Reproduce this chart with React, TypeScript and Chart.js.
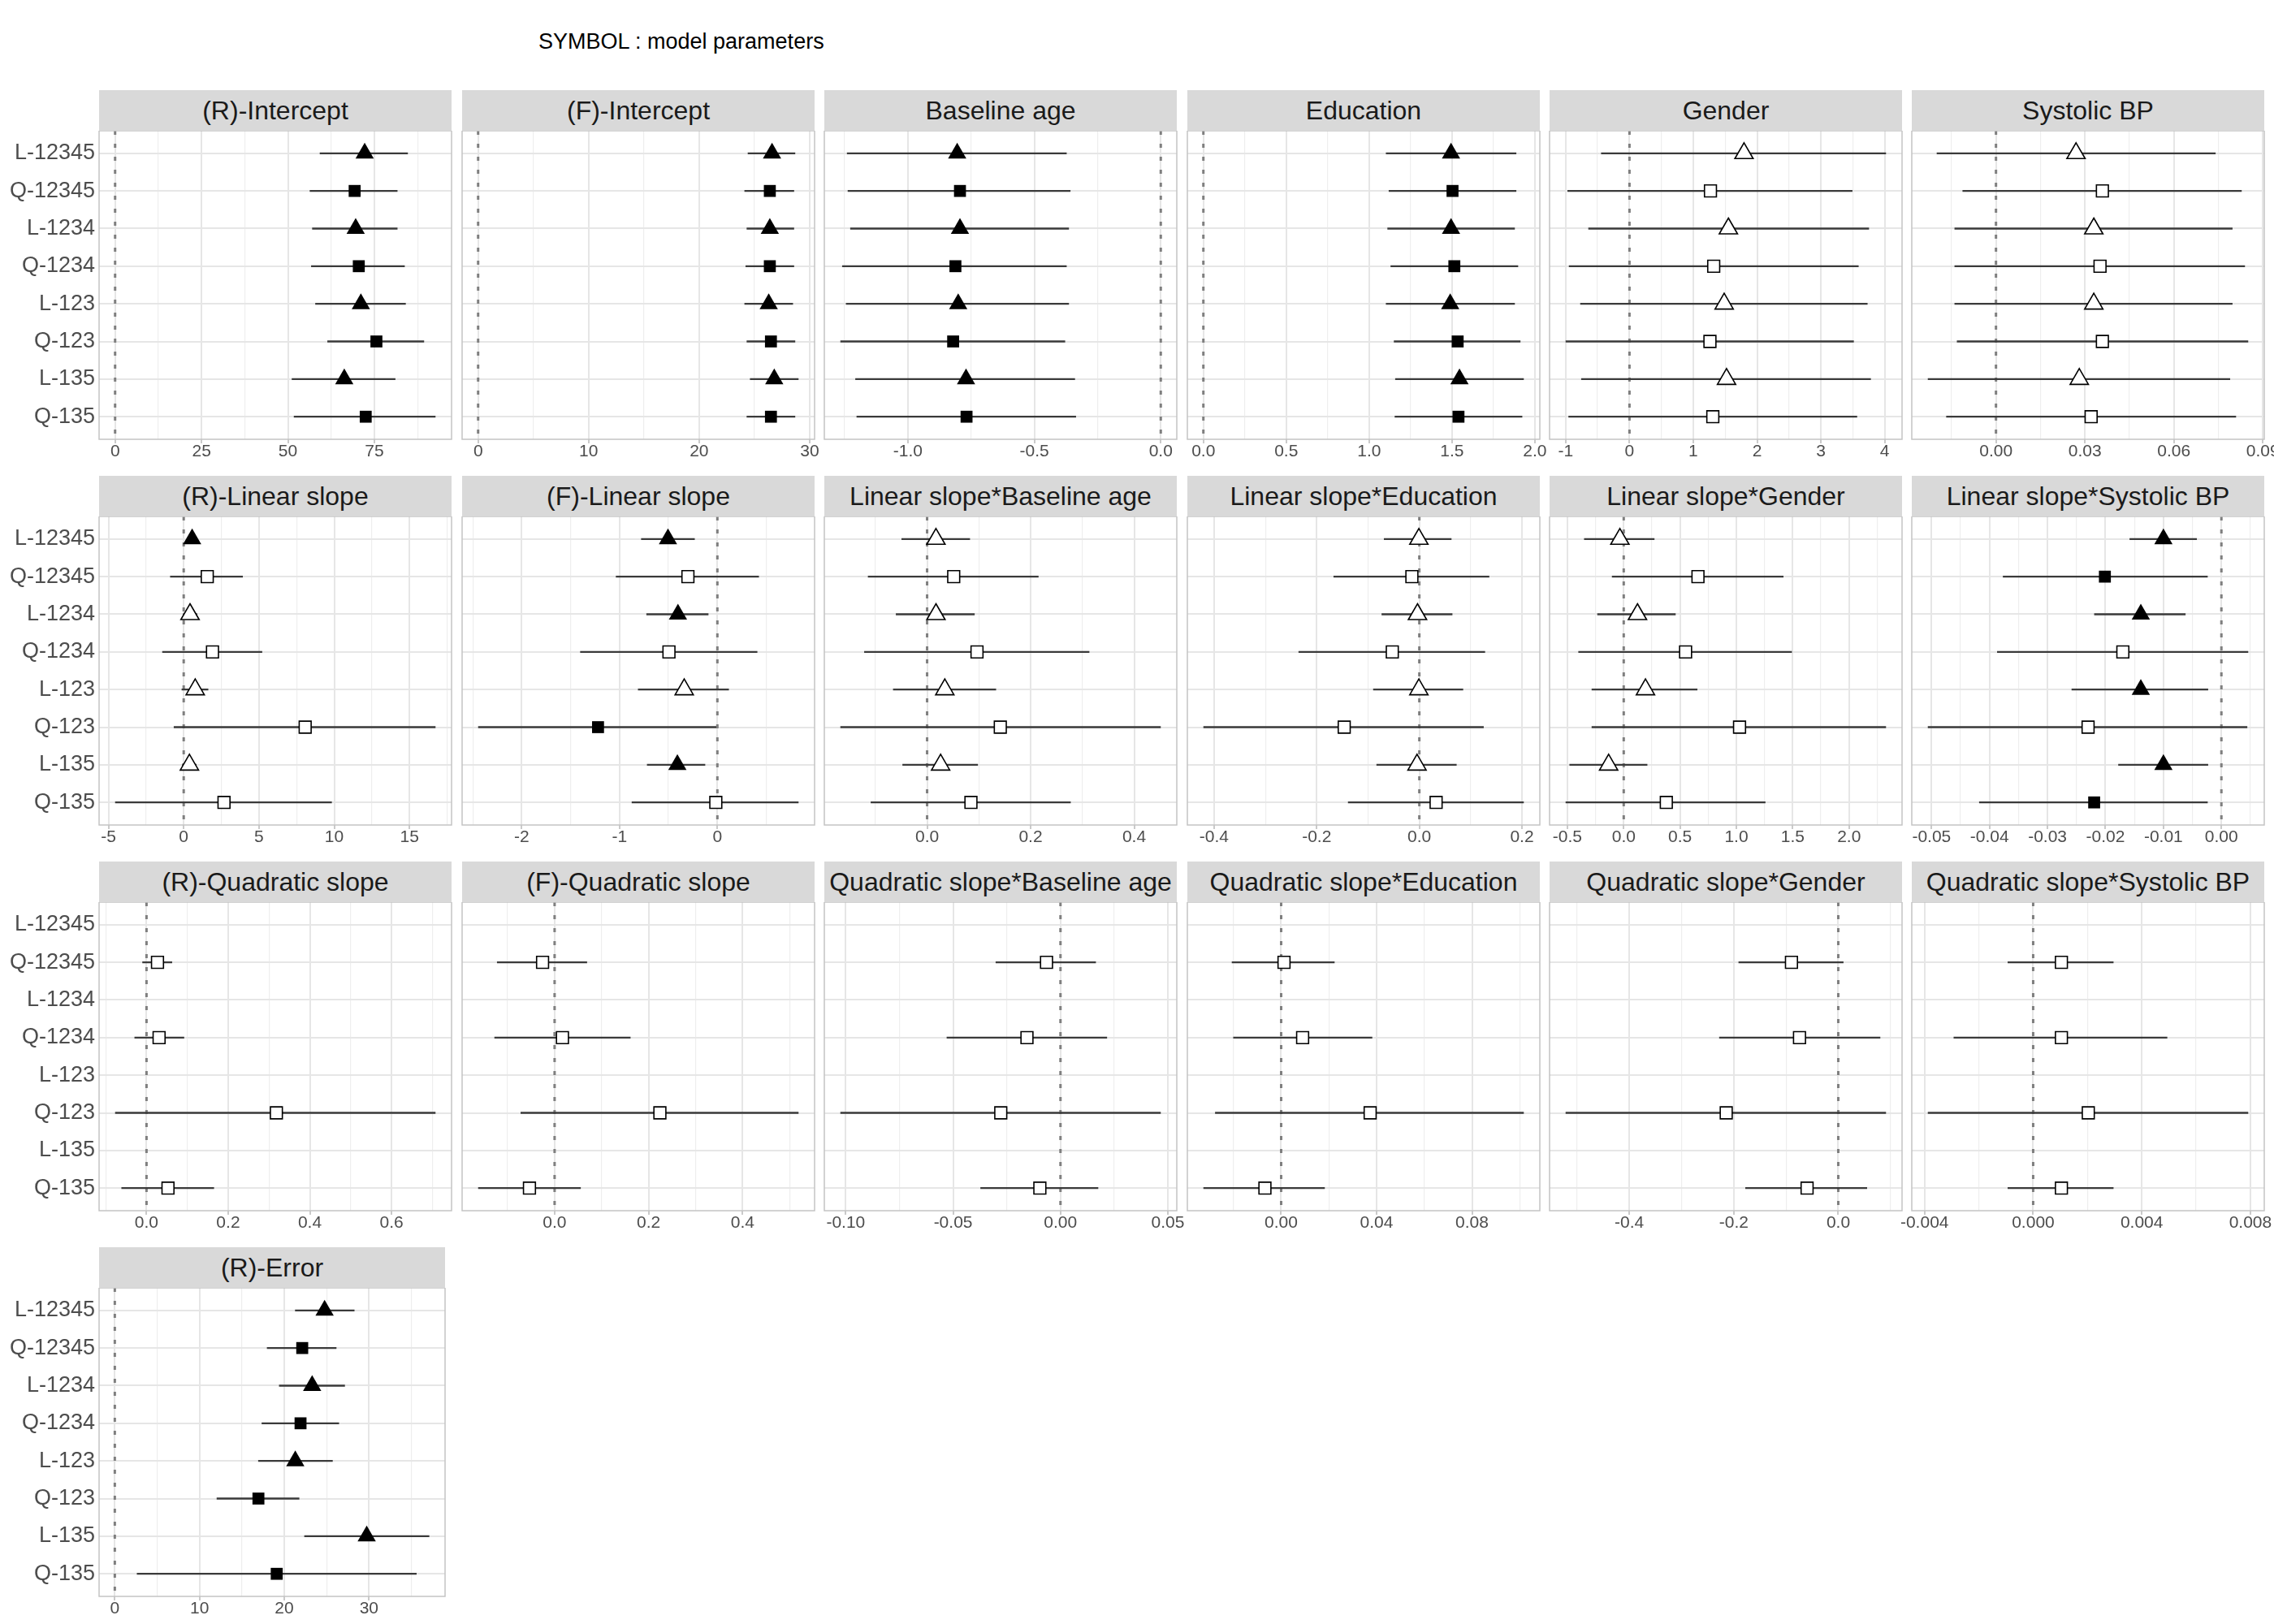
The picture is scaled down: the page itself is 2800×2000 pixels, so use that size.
import React, { useEffect, useRef } from "react";
import { Chart, registerables } from "chart.js";

Chart.register(...registerables);
Chart.defaults.font.family = "'Liberation Sans', Arial, Helvetica, sans-serif";

// ---------------- data ----------------
const models = ["L-12345", "Q-12345", "L-1234", "Q-1234", "L-123", "Q-123", "L-135", "Q-135"];

// each row: [estimate, lower, upper]; null = parameter not in model
const rIntercept = [[72.2, 59.2, 84.7], [69.3, 56.3, 81.7], [69.6, 57.0, 81.7], [70.5, 56.7, 83.8], [71.1, 57.9, 84.1], [75.6, 61.4, 89.4], [66.3, 51.1, 81.1], [72.5, 51.7, 92.7]];
const fIntercept = [[26.6, 24.4, 28.7], [26.4, 24.1, 28.6], [26.4, 24.3, 28.6], [26.4, 24.2, 28.6], [26.3, 24.1, 28.5], [26.5, 24.3, 28.7], [26.8, 24.6, 29.0], [26.5, 24.3, 28.7]];
const baselineAge = [[-0.805, -1.241, -0.372], [-0.794, -1.238, -0.357], [-0.794, -1.228, -0.363], [-0.812, -1.26, -0.372], [-0.801, -1.245, -0.363], [-0.821, -1.267, -0.378], [-0.77, -1.208, -0.339], [-0.768, -1.203, -0.335]];
const education = [[1.494, 1.101, 1.888], [1.503, 1.118, 1.888], [1.494, 1.11, 1.879], [1.514, 1.129, 1.899], [1.489, 1.101, 1.879], [1.534, 1.149, 1.913], [1.545, 1.157, 1.933], [1.539, 1.154, 1.924]];
const gender = [[1.795, -0.445, 4.02], [1.269, -0.972, 3.494], [1.55, -0.645, 3.754], [1.32, -0.95, 3.591], [1.484, -0.772, 3.731], [1.261, -1.001, 3.516], [1.521, -0.757, 3.783], [1.306, -0.957, 3.568]];
const systolicBP = [[0.027, -0.02, 0.0741], [0.0359, -0.0113, 0.0829], [0.033, -0.014, 0.0798], [0.0351, -0.014, 0.084], [0.033, -0.014, 0.0798], [0.0359, -0.0132, 0.0851], [0.0281, -0.023, 0.079], [0.0321, -0.0168, 0.081]];
const rLinear = [[0.56, 0.3, 0.8], [1.565, -0.904, 3.93], [0.42, -0.05, 0.9], [1.913, -1.426, 5.217], [0.765, -0.139, 1.635], [8.07, -0.661, 16.73], [0.38, -0.1, 0.85], [2.678, -4.557, 9.843]];
const fLinear = [[-0.505, -0.78, -0.231], [-0.301, -1.038, 0.425], [-0.403, -0.726, -0.091], [-0.495, -1.403, 0.409], [-0.339, -0.812, 0.118], [-1.22, -2.446, -0.011], [-0.409, -0.72, -0.124], [-0.016, -0.876, 0.83]];
const linAge = [[0.0171, -0.0495, 0.0829], [0.0514, -0.1144, 0.2153], [0.0171, -0.0604, 0.0919], [0.0964, -0.1216, 0.3135], [0.0342, -0.0658, 0.1333], [0.1414, -0.1676, 0.4514], [0.0261, -0.0477, 0.0982], [0.0847, -0.109, 0.2775]];
const linEdu = [[-0.0009, -0.0691, 0.0627], [-0.0145, -0.1673, 0.1364], [-0.0036, -0.0736, 0.0645], [-0.0527, -0.2355, 0.1282], [-0.0009, -0.09, 0.0855], [-0.1464, -0.4209, 0.1255], [-0.0045, -0.0836, 0.0727], [0.0327, -0.1391, 0.2036]];
const linGender = [[-0.034, -0.352, 0.273], [0.659, -0.105, 1.418], [0.122, -0.235, 0.461], [0.549, -0.403, 1.493], [0.193, -0.285, 0.654], [1.028, -0.285, 2.328], [-0.134, -0.482, 0.21], [0.378, -0.516, 1.258]];
const linBP = [[-0.01, -0.01585, -0.00423], [-0.0201, -0.0377, -0.00236], [-0.0139, -0.02195, -0.00618], [-0.017, -0.0387, 0.00463], [-0.0139, -0.02585, -0.00228], [-0.023, -0.05065, 0.00447], [-0.01, -0.0178, -0.00228], [-0.02195, -0.0418, -0.00236]];
const rQuad = [null, [0.0269, -0.0103, 0.0628], null, [0.0308, -0.0295, 0.0923], null, [0.318, -0.0769, 0.7077], null, [0.0526, -0.0615, 0.1654]];
const fQuad = [null, [-0.0256, -0.1226, 0.0691], null, [0.0167, -0.1281, 0.1616], null, [0.224, -0.0724, 0.519], null, [-0.0535, -0.1627, 0.0557]];
const quadAge = [null, [-0.0065, -0.0302, 0.0165], null, [-0.0156, -0.053, 0.0217], null, [-0.0278, -0.1025, 0.0467], null, [-0.0096, -0.0373, 0.0176]];
const quadEdu = [null, [0.0012, -0.0207, 0.0224], null, [0.009, -0.0201, 0.0382], null, [0.0373, -0.0277, 0.1017], null, [-0.0068, -0.0326, 0.0183]];
const quadGender = [null, [-0.0896, -0.191, 0.01], null, [-0.0742, -0.228, 0.0805], null, [-0.2145, -0.522, 0.0914], null, [-0.0597, -0.178, 0.0552]];
const quadBP = [null, [0.00104, -0.00094, 0.00296], null, [0.00104, -0.00293, 0.00494], null, [0.00203, -0.00388, 0.00792], null, [0.00104, -0.00094, 0.00296]];
const rError = [[24.76, 21.27, 28.29], [22.12, 17.95, 26.16], [23.29, 19.38, 27.16], [21.92, 17.33, 26.47], [21.3, 16.92, 25.72], [16.95, 12.02, 21.78], [29.73, 22.36, 37.12], [19.11, 2.6, 35.62]];

const panelTitles = [
  "(R)-Intercept", "(F)-Intercept", "Baseline age", "Education", "Gender", "Systolic BP",
  "(R)-Linear slope", "(F)-Linear slope", "Linear slope*Baseline age", "Linear slope*Education", "Linear slope*Gender", "Linear slope*Systolic BP",
  "(R)-Quadratic slope", "(F)-Quadratic slope", "Quadratic slope*Baseline age", "Quadratic slope*Education", "Quadratic slope*Gender", "Quadratic slope*Systolic BP",
  "(R)-Error",
];

const panelData: (number[] | null)[][] = [
  rIntercept, fIntercept, baselineAge, education, gender, systolicBP,
  rLinear, fLinear, linAge, linEdu, linGender, linBP,
  rQuad, fQuad, quadAge, quadEdu, quadGender, quadBP,
  rError,
];

const panelTickLabels = [
  ["0", "25", "50", "75"],
  ["0", "10", "20", "30"],
  ["-1.0", "-0.5", "0.0"],
  ["0.0", "0.5", "1.0", "1.5", "2.0"],
  ["-1", "0", "1", "2", "3", "4"],
  ["0.00", "0.03", "0.06", "0.09"],
  ["-5", "0", "5", "10", "15"],
  ["-2", "-1", "0"],
  ["0.0", "0.2", "0.4"],
  ["-0.4", "-0.2", "0.0", "0.2"],
  ["-0.5", "0.0", "0.5", "1.0", "1.5", "2.0"],
  ["-0.05", "-0.04", "-0.03", "-0.02", "-0.01", "0.00"],
  ["0.0", "0.2", "0.4", "0.6"],
  ["0.0", "0.2", "0.4"],
  ["-0.10", "-0.05", "0.00", "0.05"],
  ["0.00", "0.04", "0.08"],
  ["-0.4", "-0.2", "0.0"],
  ["-0.004", "0.000", "0.004", "0.008"],
  ["0", "10", "20", "30"],
];

const chartTitle = "SYMBOL : model parameters";

// ---------------- layout ----------------
const COL_LEFT = [122, 569, 1015, 1462, 1908, 2354];
const ROW_TOP = [111, 586, 1061, 1536];
const PANEL_W = 434;
const ERROR_W = 426;
const STRIP_H = 50;
const PLOT_H = 380;
const AXIS_H = 40;
const SIDE = 28;
const LABEL_W = 122;
const FONT = "'Liberation Sans', Arial, Helvetica, sans-serif";

const borderPlugin = {
  id: "panelBorder",
  afterDraw(chart: any) {
    const { ctx, chartArea } = chart;
    ctx.save();
    ctx.strokeStyle = "#C4C4C4";
    ctx.lineWidth = 1.5;
    ctx.strokeRect(chartArea.left, chartArea.top, chartArea.right - chartArea.left, chartArea.bottom - chartArea.top);
    ctx.restore();
  },
};

function buildTicks(labels: string[], min: number, max: number) {
  const majors = labels.map(Number);
  const step = majors[1] - majors[0];
  const ext = [majors[0] - step, ...majors, majors[majors.length - 1] + step];
  const minors: number[] = [];
  for (let i = 0; i < ext.length - 1; i++) minors.push((ext[i] + ext[i + 1]) / 2);
  const eps = Math.abs(step) * 1e-9;
  return [...majors, ...minors]
    .filter((v) => v >= min - eps && v <= max + eps)
    .sort((a, b) => a - b);
}

function Panel({ index }: { index: number }) {
  const canvasRef = useRef<HTMLCanvasElement | null>(null);
  const col = index % 6;
  const row = Math.floor(index / 6);
  const first = col === 0;
  const width = index === 18 ? ERROR_W : PANEL_W;
  const left = COL_LEFT[col];
  const top = ROW_TOP[row];
  const padLeft = first ? LABEL_W : SIDE;
  const canvasLeft = left - padLeft;
  const canvasW = padLeft + width + SIDE;
  const canvasH = PLOT_H + AXIS_H;
  const canvasTop = top + STRIP_H;

  useEffect(() => {
    const rows = panelData[index];
    const labels = panelTickLabels[index];
    const majors = labels.map(Number);
    const valid = rows.filter((r) => r !== null) as number[][];
    const lo = Math.min(0, ...valid.map((r) => r[1]));
    const hi = Math.max(0, ...valid.map((r) => r[2]));
    const pad = 0.05 * (hi - lo);
    const xMin = lo - pad;
    const xMax = hi + pad;
    const tickVals = buildTicks(labels, xMin, xMax);
    const step = Math.abs(majors[1] - majors[0]);
    const majorIdx = (v: number) => majors.findIndex((m) => Math.abs(m - v) < step * 1e-6);
    const isMajor = (v: number) => majorIdx(v) >= 0;

    const pts: any[] = [];
    const styles: string[] = [];
    const radii: number[] = [];
    const bg: string[] = [];
    const bw: number[] = [];
    const datasets: any[] = [];
    rows.forEach((r, i) => {
      if (!r) return;
      const sig = r[1] > 0 || r[2] < 0;
      const tri = models[i].startsWith("L");
      pts.push({ x: r[0], y: i });
      styles.push(tri ? "triangle" : "rect");
      radii.push(tri ? 13 : 10.4);
      bg.push(sig ? "#000000" : "#FFFFFF");
      bw.push(sig ? 0 : 1.6);
      datasets.push({
        type: "scatter",
        showLine: true,
        data: [{ x: r[1], y: i }, { x: r[2], y: i }],
        borderColor: "#3A3A3A",
        borderWidth: 2.3,
        pointRadius: 0,
        order: 1,
      });
    });
    datasets.unshift({
      type: "scatter",
      data: pts,
      pointStyle: styles,
      pointRadius: radii,
      pointBackgroundColor: bg,
      pointBorderColor: "#000000",
      pointBorderWidth: bw,
      order: 0,
    });
    datasets.push({
      type: "scatter",
      showLine: true,
      data: [{ x: 0, y: -0.6 }, { x: 0, y: 7.6 }],
      borderColor: "#7F7F7F",
      borderWidth: 3,
      borderDash: [5, 11],
      pointRadius: 0,
      order: 2,
    });

    const chart = new Chart(canvasRef.current as HTMLCanvasElement, {
      type: "scatter",
      data: { datasets },
      options: {
        responsive: false,
        maintainAspectRatio: false,
        animation: false,
        events: [],
        layout: { autoPadding: false, padding: { left: first ? 0 : SIDE, right: SIDE, top: 0, bottom: 0 } },
        plugins: { legend: { display: false }, tooltip: { enabled: false } },
        scales: {
          x: {
            type: "linear",
            min: xMin,
            max: xMax,
            bounds: "data",
            afterBuildTicks: (axis: any) => {
              axis.ticks = tickVals.map((v) => ({ value: v }));
            },
            afterFit: (axis: any) => {
              axis.height = AXIS_H;
              axis.paddingLeft = 0;
              axis.paddingRight = 0;
            },
            ticks: {
              autoSkip: false,
              maxRotation: 0,
              minRotation: 0,
              padding: 0,
              color: "#4D4D4D",
              font: { size: 21, lineHeight: 1, family: FONT },
              callback: (v: any) => {
                const k = majorIdx(Number(v));
                return k >= 0 ? labels[k] : "";
              },
            },
            grid: {
              color: (ctx: any) => (ctx.tick && isMajor(ctx.tick.value) ? "#E6E6E6" : "#EEEEEE"),
              lineWidth: (ctx: any) => (ctx.tick && isMajor(ctx.tick.value) ? 2 : 1.2),
              tickLength: 5,
              tickColor: (ctx: any) => (ctx.tick && isMajor(ctx.tick.value) ? "#B8B8B8" : "rgba(0,0,0,0)"),
              tickWidth: 1.5,
            },
            border: { display: false },
          },
          y: {
            type: "linear",
            min: -0.6,
            max: 7.6,
            reverse: true,
            bounds: "data",
            afterBuildTicks: (axis: any) => {
              axis.ticks = models.map((_, i) => ({ value: i }));
            },
            afterFit: (axis: any) => {
              axis.width = first ? LABEL_W : 0;
              axis.paddingTop = 0;
              axis.paddingBottom = 0;
            },
            ticks: {
              display: first,
              autoSkip: false,
              padding: 5,
              color: "#4D4D4D",
              font: { size: 27, family: FONT },
              callback: (v: any) => models[Number(v)] ?? "",
            },
            grid: { color: "#E6E6E6", lineWidth: 2, drawTicks: false },
            border: { display: false },
          },
        },
      } as any,
      plugins: [borderPlugin],
    });
    return () => chart.destroy();
  }, [index]);

  return (
    <>
      <div
        style={{
          position: "absolute",
          left,
          top,
          width,
          height: STRIP_H,
          background: "#D9D9D9",
          display: "flex",
          alignItems: "center",
          justifyContent: "center",
          fontFamily: FONT,
          fontSize: 32,
          color: "#1A1A1A",
          whiteSpace: "nowrap",
          overflow: "visible",
        }}
      >
        {panelTitles[index]}
      </div>
      <canvas
        ref={canvasRef}
        width={canvasW}
        height={canvasH}
        style={{ position: "absolute", left: canvasLeft, top: canvasTop, width: canvasW, height: canvasH }}
      />
    </>
  );
}

export default function App() {
  return (
    <div
      style={{
        position: "absolute",
        left: 0,
        top: 0,
        width: 2800,
        height: 2000,
        background: "#FFFFFF",
        overflow: "hidden",
      }}
    >
      <div
        style={{
          position: "absolute",
          left: 663,
          top: 36,
          fontFamily: FONT,
          fontSize: 27,
          color: "#000000",
          whiteSpace: "nowrap",
        }}
      >
        {chartTitle}
      </div>
      {panelTitles.map((_, i) => (
        <Panel key={i} index={i} />
      ))}
    </div>
  );
}
